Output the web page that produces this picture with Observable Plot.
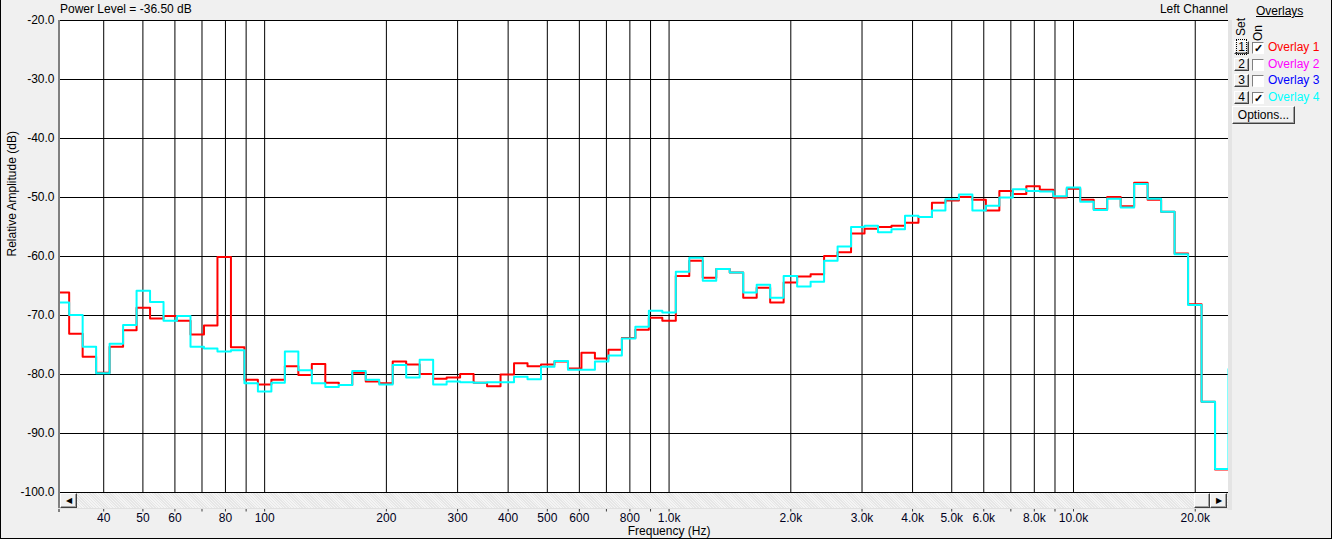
<!DOCTYPE html>
<html><head><meta charset="utf-8">
<script src="https://cdn.jsdelivr.net/npm/d3@7"></script>
<script src="https://cdn.jsdelivr.net/npm/@observablehq/plot@0.6"></script>
<style>
html,body{margin:0;padding:0;background:#f0f0f0;}
#wrap{position:relative;width:1332px;height:539px;background:#f0f0f0;font-family:"Liberation Sans",Arial,sans-serif;font-size:12px;overflow:hidden;color:#000}
#chart{position:absolute;left:0;top:0}
.abs{position:absolute;white-space:nowrap}
.btn{position:absolute;background:#f0f0f0;border-top:1px solid #fff;border-left:1px solid #fff;border-right:1px solid #404040;border-bottom:1px solid #404040;box-shadow:inset -1px -1px 0 #a0a0a0;box-sizing:border-box;text-align:center;font-size:12px;line-height:10px}
.chk{position:absolute;width:12px;height:12px;background:#fff;border-top:1px solid #808080;border-left:1px solid #808080;border-right:1px solid #fff;border-bottom:1px solid #fff;box-sizing:border-box;font-size:11px;line-height:10px;text-align:center;font-weight:bold}
.rot{position:absolute;writing-mode:vertical-rl;transform:rotate(180deg);font-size:12px;line-height:12px}
</style></head>
<body>
<div id="wrap"></div>
<script>
// ---- data ----
// bin index relative to 100 Hz, 30 bins per decade (bin centres 100*10^(k/30))
const binIndex = d3.range(-15, 73);
const overlay1 = [ // red, Overlay 1 (dB)
 -66.1,-73.1,-77.0,-79.7,-75.3,-72.5,-68.7,-70.5,-70.1,-70.9,-73.2,-71.7,-60.1,-75.4,-80.9,
 -81.7,-80.9,-78.6,-80.1,-78.2,-81.4,-81.8,-79.7,-81.2,-81.5,-77.8,-78.3,-79.9,-80.7,-80.5,
 -79.9,-81.4,-82.0,-80.0,-78.1,-78.6,-78.3,-77.8,-79.0,-76.3,-77.3,-75.8,-73.8,-72.4,-70.4,
 -70.9,-63.3,-60.7,-63.6,-62.1,-62.7,-67.0,-65.3,-67.8,-64.4,-63.4,-63.0,-59.9,-59.3,-56.1,
 -55.3,-55.0,-54.8,-54.3,-53.3,-50.9,-50.5,-49.9,-50.4,-52.2,-48.9,-49.4,-48.1,-48.7,-50.0,
 -48.5,-50.4,-52.0,-49.9,-51.5,-47.5,-50.4,-52.4,-59.5,-68.1,-84.6,-96.1,-96.1];
const overlay4 = [ // cyan, Overlay 4 (dB)
 -67.8,-69.9,-75.3,-79.8,-74.8,-71.6,-65.8,-67.7,-70.9,-70.1,-75.3,-75.6,-76.1,-75.9,-81.5,
 -82.9,-81.4,-76.1,-79.3,-81.5,-82.1,-81.8,-79.4,-80.9,-81.7,-78.4,-80.5,-77.5,-81.7,-81.2,
 -81.3,-81.4,-81.3,-81.3,-80.4,-80.8,-78.7,-77.7,-79.2,-79.2,-77.8,-76.8,-73.9,-71.9,-69.2,
 -69.5,-62.6,-60.2,-64.1,-62.1,-62.7,-66.1,-64.8,-67.0,-63.3,-65.1,-64.3,-60.7,-58.3,-55.0,
 -54.8,-55.9,-55.4,-53.1,-53.3,-52.2,-50.3,-49.5,-52.2,-51.4,-50.0,-48.6,-48.9,-49.0,-49.8,
 -48.3,-50.7,-52.1,-50.2,-51.7,-47.7,-50.2,-52.4,-59.6,-68.2,-84.6,-96.0,-79.1];
const yTicks = [-20,-30,-40,-50,-60,-70,-80,-90,-100];
const gridFreqs = [40,50,60,70,80,90,100,200,300,400,500,600,700,800,900,1000,2000,3000,4000,5000,6000,7000,8000,9000,10000,20000];
const labelFreqs = [40,50,60,80,100,200,300,400,500,600,800,1000,2000,3000,4000,5000,6000,8000,10000,20000];
const overlayNames = ["Overlay 1","Overlay 2","Overlay 3","Overlay 4"];
const overlayColors = ["#ff0000","#ff00ff","#0000ff","#00ffff"];
const overlayOn = [true,false,false,true];
const xDomain = [31.1, 24170];
const yDomain = [-100, -20];

// ---- build ----
const rows = binIndex.map((k,i) => ({f: Math.pow(10, 2 + (k - 0.5)/30), o1: overlay1[i], o4: overlay4[i]}));
const fmtHz = f => f >= 1000 ? (f/1000).toFixed(1) + "k" : String(f);
const pxPerDb = 472 / 80;

const chart = Plot.plot({
  width: 1332, height: 539,
  marginLeft: 59, marginRight: 104, marginTop: 20, marginBottom: 47,
  style: {background: "transparent", fontFamily: "'Liberation Sans', Arial, sans-serif", fontSize: "12px", color: "#000", overflow: "visible"},
  x: {type: "log", domain: xDomain, axis: null},
  y: {domain: yDomain},
  marks: [
    Plot.frame({fill: "white", stroke: null}),
    Plot.ruleY(yTicks, {stroke: "#000", strokeWidth: 1}),
    Plot.ruleX(gridFreqs, {stroke: "#000", strokeWidth: 1}),
    Plot.line(rows, {x: "f", y: "o1", curve: "step-after", stroke: overlayColors[0], strokeWidth: 2, clip: true}),
    Plot.line(rows, {x: "f", y: "o4", curve: "step-after", stroke: overlayColors[3], strokeWidth: 2, clip: true}),
    Plot.frame({stroke: "#000", strokeWidth: 1}),
    Plot.axisY({ticks: yTicks, tickFormat: d => d.toFixed(1), tickSize: 0, tickPadding: 5, label: null}),
    // small tick marks below the scroll bar
    Plot.ruleX(gridFreqs, {y1: yDomain[0] - 16.5/pxPerDb, y2: yDomain[0] - 19.5/pxPerDb, stroke: "#404040"}),
    // tick labels
    Plot.text(labelFreqs, {x: d => d, text: fmtHz, frameAnchor: "bottom", dy: 29.5, fill: "#000020", fontSize: 12}),
    Plot.text(["Relative Amplitude (dB)"], {frameAnchor: "left", rotate: -90, dx: -47, fontSize: 12}),
    Plot.text(["Frequency (Hz)"], {x: 1000, frameAnchor: "bottom", dy: 42.5, fontSize: 12})
  ]
});
chart.id = "chart";
const wrap = document.getElementById("wrap");
wrap.appendChild(chart);

function add(html){ wrap.insertAdjacentHTML("beforeend", html); }
// frame of window
add('<div class="abs" style="left:0;top:0;width:1px;height:539px;background:#000"></div>');
add('<div class="abs" style="left:1331px;top:0;width:1px;height:539px;background:#000"></div>');
add('<div class="abs" style="left:0;top:538px;width:1332px;height:1px;background:#000"></div>');
// left gray bar and right light bar
add('<div class="abs" style="left:58px;top:20px;width:2px;height:492px;background:#808080"></div>');
add('<div class="abs" style="left:1228px;top:20px;width:4px;height:490px;background:#e4e4e4"></div>');
// scrollbar
add('<div class="abs" style="left:60px;top:493px;width:1168px;height:15px;background:repeating-linear-gradient(45deg,#f4f4f4 0 1px,#e6e6e6 1px 2px)"></div>');
add('<div class="btn" style="left:60px;top:493px;width:17px;height:15px;font-size:8px;line-height:13px">&#9664;</div>');
add('<div class="btn" style="left:1194px;top:493px;width:16px;height:15px"></div>');
add('<div class="btn" style="left:1210px;top:493px;width:17px;height:15px;font-size:8px;line-height:13px">&#9654;</div>');
add('<div class="abs" style="left:58px;top:508px;width:1170px;height:1px;background:#e0e0e0"></div>');
// titles
add('<div class="abs" style="left:60px;top:2px;font-size:12px">Power Level = -36.50 dB</div>');
add('<div class="abs" style="right:104px;top:2px;font-size:12px">Left Channel</div>');
// overlay panel
add('<div class="abs" style="left:1256px;top:4px;text-decoration:underline">Overlays</div>');
add('<div class="rot" style="left:1235px;top:18px">Set</div>');
add('<div class="rot" style="left:1252px;top:25px">On</div>');
overlayNames.forEach((name, i) => {
  const top = 42 + i*16.5;
  const lbl = i === 0 ? '<span style="border:1px dotted #000;padding:0 1px">1</span>' : String(i+1);
  add(`<div class="btn" style="left:1234px;top:${top-1}px;width:15px;height:13px;line-height:11px">${lbl}</div>`);
  add(`<div class="chk" style="left:1252px;top:${top}px">${overlayOn[i] ? "&#10003;" : ""}</div>`);
  add(`<div class="abs" style="left:1268px;top:${top-2}px;color:${overlayColors[i]}">${name}</div>`);
});
add('<div class="btn" style="left:1232px;top:106px;width:63px;height:18px;line-height:16px">Options...</div>');
</script>
</body></html>
